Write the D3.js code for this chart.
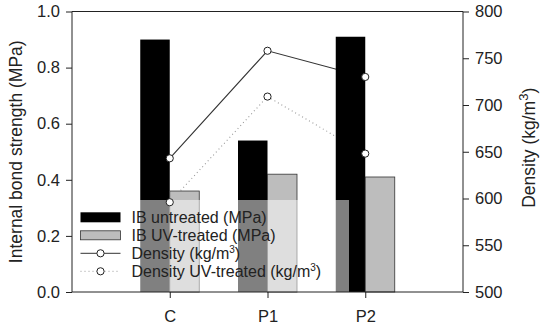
<!DOCTYPE html>
<html>
<head>
<script src="https://cdn.jsdelivr.net/npm/d3@7"></script>
<style>
body { margin: 0; background: #fff; }
text { font-family: "Liberation Sans", Arial, sans-serif; fill: #222; }
</style>
</head>
<body>
<svg width="550" height="326"></svg>
<script>
const categories = ['C', 'P1', 'P2'];
const ibUntreated = [0.90, 0.54, 0.91];
const ibUV = [0.36, 0.42, 0.41];
const density = [643, 758, 730];
const densityUV = [596, 709, 648];
const leftTicks = [0, 0.2, 0.4, 0.6, 0.8, 1.0];
const rightTicks = [500, 550, 600, 650, 700, 750, 800];

const svg = d3.select('svg');
const margin = { top: 11.5, right: 87, bottom: 34, left: 72 };
const width = 550, height = 326;
const innerW = width - margin.left - margin.right;
const innerH = height - margin.top - margin.bottom;

const g = svg.append('g').attr('transform', `translate(${margin.left},${margin.top})`);

const x = d3.scaleLinear().domain([0, 4]).range([0, innerW]);
const y = d3.scaleLinear().domain([0, 1]).range([innerH, 0]);
const y2 = d3.scaleLinear().domain([500, 800]).range([innerH, 0]);
const barW = 29.5;

// density lines sit behind the bars
const line = d3.line().x((d, i) => x(i + 1)).y(d => y2(d));
g.append('path').datum(density).attr('d', line)
  .attr('fill', 'none').attr('stroke', '#333').attr('stroke-width', 1.1);
g.append('path').datum(densityUV).attr('d', line)
  .attr('fill', 'none').attr('stroke', '#999').attr('stroke-width', 1.1)
  .attr('stroke-dasharray', '1,3');

g.selectAll('.bar1').data(ibUntreated).enter().append('rect')
  .attr('x', (d, i) => x(i + 1) - barW)
  .attr('y', d => y(d))
  .attr('width', barW)
  .attr('height', d => innerH - y(d))
  .attr('fill', '#000');

g.selectAll('.bar2').data(ibUV).enter().append('rect')
  .attr('x', (d, i) => x(i + 1))
  .attr('y', d => y(d))
  .attr('width', barW)
  .attr('height', d => innerH - y(d))
  .attr('fill', '#bdbdbd').attr('stroke', '#333').attr('stroke-width', 0.8);

// legend box, translucent
g.append('rect').attr('x', 4).attr('y', 188.5).attr('width', 273).attr('height', innerH - 188.5)
  .attr('fill', '#fff').attr('opacity', 0.5);

[density, densityUV].forEach(arr => {
  g.selectAll(null).data(arr).enter().append('circle')
    .attr('cx', (d, i) => x(i + 1))
    .attr('cy', d => y2(d))
    .attr('r', 3.6)
    .attr('fill', '#fff').attr('stroke', '#222').attr('stroke-width', 1);
});

// frame
g.append('line').attr('x1', 0).attr('x2', innerW).attr('y1', 0).attr('y2', 0).attr('stroke', '#222');

const axisL = g.append('g').call(d3.axisLeft(y).tickValues(leftTicks).tickFormat(d3.format('.1f')).tickSize(6).tickPadding(6));
const axisR = g.append('g').attr('transform', `translate(${innerW},0)`)
  .call(d3.axisRight(y2).tickValues(rightTicks).tickSize(6).tickPadding(6));
const axisB = g.append('g').attr('transform', `translate(0,${innerH})`)
  .call(d3.axisBottom(x).tickValues([1, 2, 3]).tickFormat((d) => categories[d - 1]).tickSize(6).tickPadding(12));
[axisL, axisR, axisB].forEach(a => {
  a.selectAll('.domain').attr('stroke', '#222');
  a.selectAll('.tick line').attr('stroke', '#222');
  a.selectAll('.tick text').style('font-size', '16.5px').attr('fill', '#222');
  a.selectAll('.tick text').style('font-family', '"Liberation Sans", Arial, sans-serif');
});
axisB.select('.domain').attr('d', `M0,0H${innerW}`);
axisL.select('.domain').attr('d', `M0,${innerH}V0`);
axisR.select('.domain').attr('d', `M0,${innerH}V0`);

// axis titles
svg.append('text').attr('transform', `translate(22,${margin.top + innerH / 2}) rotate(-90)`)
  .attr('text-anchor', 'middle').style('font-size', '17.5px')
  .text('Internal bond strength (MPa)');
const rt = svg.append('text').attr('transform', `translate(535,${margin.top + innerH / 2 - 4}) rotate(-90)`)
  .attr('text-anchor', 'middle').style('font-size', '17.5px');
rt.append('tspan').text('Density (kg/m');
rt.append('tspan').attr('dy', -7).style('font-size', '13px').text('3');
rt.append('tspan').attr('dy', 7).text(')');

// legend
const leg = g.append('g').attr('transform', 'translate(8.5,205.8)');
const rowH = 18;
leg.append('rect').attr('x', 0).attr('y', -5).attr('width', 40).attr('height', 10).attr('fill', '#000');
leg.append('rect').attr('x', 0).attr('y', rowH - 4.5).attr('width', 40).attr('height', 9)
  .attr('fill', '#bdbdbd').attr('stroke', '#333').attr('stroke-width', 0.8);
leg.append('line').attr('x1', 0).attr('x2', 40).attr('y1', rowH * 2).attr('y2', rowH * 2).attr('stroke', '#333');
leg.append('line').attr('x1', 0).attr('x2', 40).attr('y1', rowH * 3).attr('y2', rowH * 3)
  .attr('stroke', '#999').attr('stroke-dasharray', '1,3');
[2, 3].forEach(k => leg.append('circle').attr('cx', 20).attr('cy', rowH * k).attr('r', 3.6)
  .attr('fill', '#fff').attr('stroke', '#222'));
const labels = ['IB untreated (MPa)', 'IB UV-treated (MPa)', 'Density (kg/m', 'Density UV-treated (kg/m'];
labels.forEach((t, i) => {
  const tx = leg.append('text').attr('x', 51).attr('y', rowH * i).attr('dy', '0.35em').style('font-size', '16px');
  tx.append('tspan').text(t);
  if (i >= 2) {
    tx.append('tspan').attr('dy', -6).style('font-size', '10px').text('3');
    tx.append('tspan').attr('dy', 6).text(')');
  }
});
</script>
</body>
</html>
